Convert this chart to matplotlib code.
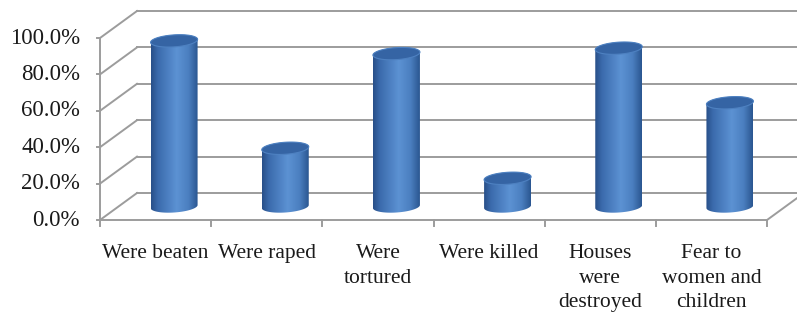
import numpy as np
import matplotlib
matplotlib.use("Agg")
import matplotlib.pyplot as plt
from matplotlib.patches import Polygon
from matplotlib.colors import LinearSegmentedColormap

# ---------------- data ----------------
categories = ["Were beaten", "Were raped", "Were\ntortured", "Were killed",
              "Houses\nwere\ndestroyed", "Fear to\nwomen and\nchildren"]
values = [91.0, 32.0, 84.0, 15.5, 87.0, 57.0]
yticks = [0, 20, 40, 60, 80, 100]
ytick_labels = ["0.0%", "20.0%", "40.0%", "60.0%", "80.0%", "100.0%"]

# ---------------- layout ----------------
W, H = 797, 320
fig = plt.figure(figsize=(W / 100, H / 100), dpi=100)
ax = fig.add_axes([0, 0, 1, 1])
ax.axis("off")

x0px, xunit = 100.0, 111.17     # pixel of category origin, px per category
y0px, yunit = 220.0, 1.82       # pixel of 0%, px per percent
xmin, xmax = -x0px / xunit, (W - x0px) / xunit
ymin, ymax = -(H - y0px) / yunit, y0px / yunit

DX = 37 / xunit     # depth offset (category units)
DY = 27 / yunit     # depth offset (percent units)
n = len(categories)

gc = "#9c9c9c"
lw = 1.4
# back wall gridlines
for v in yticks:
    ax.plot([DX, xmax + 1], [v + DY, v + DY], color=gc, lw=lw, zorder=1)
    ax.plot([0, DX], [v, v + DY], color=gc, lw=lw, zorder=1)
    ax.plot([-3 / xunit, 0], [v, v], color=gc, lw=lw, zorder=1)
# front vertical axis
ax.plot([0, 0], [0, 100], color=gc, lw=lw, zorder=1)
# floor
ax.plot([0, n], [0, 0], color=gc, lw=lw, zorder=1)
ax.plot([n, n + DX], [0, DY], color=gc, lw=lw, zorder=1)
for i in range(n + 1):
    ax.plot([i, i], [0, -6 / yunit], color=gc, lw=lw, zorder=1)

# ---------------- cylinders ----------------
cmap = LinearSegmentedColormap.from_list(
    "cyl", [(0.0, "#284f88"), (0.15, "#3b6bad"), (0.55, "#5c92d3"),
            (0.8, "#4b7fc0"), (1.0, "#2a5690")])
grad = np.linspace(0, 1, 256)[None, :]
a = 23.5 / xunit
b = 6.0 / yunit
tilt = 1.5 / yunit
t = np.linspace(0, 2 * np.pi, 200)

for i, val in enumerate(values):
    cx = i + 0.5 + DX / 2
    base = DY / 2
    top = base + val
    # body outline: lower half of bottom ellipse, upper half of top ellipse
    tl = np.linspace(np.pi, 2 * np.pi, 100)
    tu = np.linspace(0, np.pi, 100)
    xs = np.concatenate([cx + a * np.cos(tl), cx + a * np.cos(tu)])
    ys = np.concatenate([base + b * np.sin(tl) + tilt * np.cos(tl),
                         top + b * np.sin(tu) + tilt * np.cos(tu)])
    body = Polygon(np.column_stack([xs, ys]), closed=True, facecolor="none",
                   edgecolor="none", zorder=3)
    ax.add_patch(body)
    im = ax.imshow(grad, extent=[cx - a, cx + a, base - b - 2, top + b + 2],
                   aspect="auto", cmap=cmap, zorder=3, interpolation="bilinear")
    im.set_clip_path(body)
    # top ellipse
    ex = cx + a * np.cos(t)
    ey = top + b * np.sin(t) + tilt * np.cos(t)
    ax.add_patch(Polygon(np.column_stack([ex, ey]), closed=True,
                         facecolor="#3564a4", edgecolor="#4e81c1", lw=0.8, zorder=4))

# ---------------- text ----------------
font = "Liberation Serif"
for v, lab in zip(yticks, ytick_labels):
    ax.text(-20 / xunit, v, lab, ha="right", va="center", fontsize=16.5,
            family=font, color="#1a1a1a")
for i, lab in enumerate(categories):
    ax.text(i + 0.5, -24 / yunit, lab, ha="center", va="top", fontsize=15.5,
            family=font, color="#1a1a1a", linespacing=1.4)

ax.set_xlim(xmin, xmax)
ax.set_ylim(ymin, ymax)
fig.savefig("out.png", dpi=100, facecolor="white")
